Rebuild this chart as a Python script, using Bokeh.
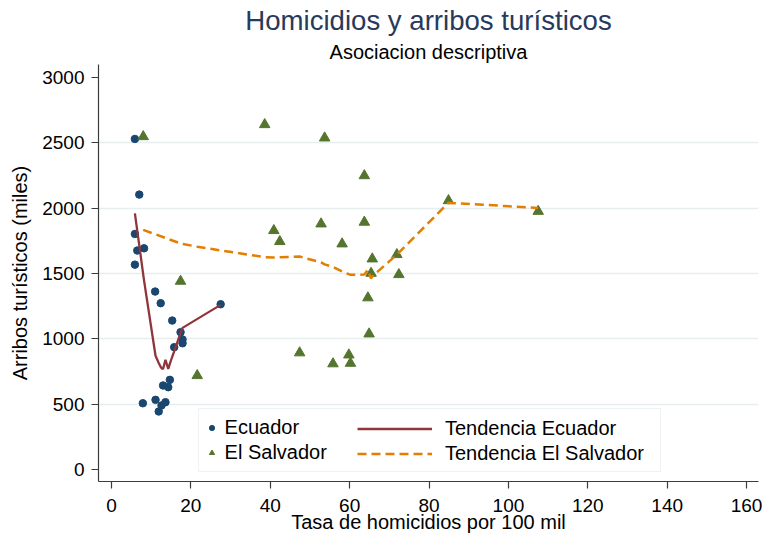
from bokeh.plotting import figure
from bokeh.models import Range1d, FixedTicker, Legend, LegendItem, Title
from bokeh.embed import file_html
from bokeh.resources import INLINE

# ---------------- data ----------------
ec_x = [5.9, 7.0, 5.9, 6.5, 8.2, 5.9, 11.0, 12.4, 15.3, 17.4, 17.9, 17.9, 15.8, 27.5,
        14.7, 13.0, 14.3, 7.9, 11.1, 13.6, 12.6, 11.9]
ec_y = [2530, 2104, 1803, 1676, 1693, 1568, 1362, 1273, 1140, 1051, 995, 966, 936, 1265,
        686, 643, 630, 507, 533, 515, 490, 444]

es_x = [8.0, 17.4, 21.6, 38.6, 40.9, 42.4, 47.4, 52.8, 53.7, 55.8, 58.1, 59.8, 60.2,
        63.7, 63.7, 64.6, 64.9, 65.4, 65.7, 71.9, 72.4, 84.9, 107.5]
es_y = [2548, 1441, 719, 2640, 1829, 1745, 893, 1880, 2538, 809, 1727, 877, 813,
        2249, 1893, 1314, 1038, 1502, 1612, 1645, 1492, 2058, 1976]

trend_ec_x = [5.9, 6.5, 7.0, 7.9, 8.2, 11.0, 11.1, 11.9, 12.4, 12.6, 13.0, 13.6, 14.3,
              14.7, 15.3, 15.8, 17.4, 17.9, 27.5]
trend_ec_y = [1961, 1827, 1716, 1515, 1448, 890, 870, 815, 785, 775, 770, 840, 770,
              808, 863, 904, 1045, 1084, 1260]

trend_es_x = [8.0, 17.4, 21.6, 38.6, 40.9, 42.4, 47.4, 52.8, 53.7, 55.8, 58.1, 59.8, 60.2,
              63.7, 64.6, 64.9, 65.4, 65.7, 71.9, 72.4, 84.9, 107.5]
trend_es_y = [1834, 1730, 1705, 1625, 1622, 1625, 1630, 1585, 1570, 1550, 1515, 1495, 1490,
              1492, 1528, 1500, 1462, 1478, 1645, 1660, 2042, 2002]

x_ticks = [0, 20, 40, 60, 80, 100, 120, 140, 160]
y_ticks = [0, 500, 1000, 1500, 2000, 2500, 3000]
grid_ticks = [500, 1000, 1500, 2000, 2500]

title_text = "Homicidios y arribos turísticos"
subtitle_text = "Asociacion descriptiva"
x_label = "Tasa de homicidios por 100 mil"
y_label = "Arribos turísticos (miles)"
series_labels = ["Ecuador", "El Salvador", "Tendencia Ecuador", "Tendencia El Salvador"]

# ---------------- styling ----------------
FONT = "Liberation Sans"
NAVY = "#1a476f"
GREEN = "#55752f"
MAROON = "#90353b"
ORANGE = "#e37e00"
AXIS = "#3c3c3c"

p = figure(width=763, height=538, output_backend="svg", toolbar_location=None,
           x_range=Range1d(-3.27, 163.0), y_range=Range1d(-92, 3100),
           min_border_left=98, min_border_right=5, min_border_top=64,
           min_border_bottom=57, title=None)
p.outline_line_color = None
p.background_fill_color = "white"
p.border_fill_color = "white"

sub = Title(text=subtitle_text, align="center", text_font=FONT, text_font_size="20px",
            text_font_style="normal", text_color="black", standoff=3)
main = Title(text=title_text, align="center", text_font=FONT, text_font_size="27.6px",
             text_font_style="normal", text_color="#283a5b", standoff=4)
p.add_layout(sub, "above")
p.add_layout(main, "above")

p.xaxis.ticker = FixedTicker(ticks=x_ticks)
p.yaxis.ticker = FixedTicker(ticks=y_ticks)
for ax in (p.xaxis[0], p.yaxis[0]):
    ax.major_tick_in = 0
    ax.major_tick_out = 7
    ax.minor_tick_line_color = None
    ax.axis_line_color = AXIS
    ax.axis_line_width = 1.2
    ax.major_tick_line_color = AXIS
    ax.major_tick_line_width = 1.2
    ax.major_label_text_font = FONT
    ax.major_label_text_font_size = "19px"
    ax.major_label_text_color = "black"
    ax.axis_label_text_font = FONT
    ax.axis_label_text_font_size = "20px"
    ax.axis_label_text_font_style = "normal"
    ax.axis_label_text_color = "black"
p.xaxis.axis_label = x_label
p.yaxis.axis_label = y_label
p.xaxis.major_label_standoff = 10
p.xaxis.axis_label_standoff = -4
p.yaxis.major_label_standoff = 7
p.yaxis.axis_label_standoff = 8

p.xgrid.grid_line_color = None
p.ygrid.ticker = FixedTicker(ticks=grid_ticks)
p.ygrid.grid_line_color = "#e6eef0"
p.ygrid.grid_line_width = 1.3

r_ec = p.scatter(ec_x, ec_y, marker="circle", size=7.5, fill_color=NAVY, line_color=NAVY)
r_es = p.scatter(es_x, es_y, marker="triangle", size=10.5, fill_color=GREEN, line_color=GREEN)
r_tec = p.line(trend_ec_x, trend_ec_y, line_color=MAROON, line_width=2.3)
r_tes = p.line(trend_es_x, trend_es_y, line_color=ORANGE, line_width=2.5, line_dash="9 5")

common = dict(margin=0, padding=6, spacing=0, glyph_height=25, label_height=25,
              label_text_font=FONT, label_text_font_size="20px", label_text_color="black")
leg1 = Legend(items=[LegendItem(label=series_labels[0], renderers=[r_ec]),
                     LegendItem(label=series_labels[1], renderers=[r_es])],
              location=(99.6, 9), glyph_width=13, label_standoff=7, label_width=429,
              border_line_color="#dde6e8", border_line_width=1,
              background_fill_color="white", background_fill_alpha=1.0, **common)
leg2 = Legend(items=[LegendItem(label=series_labels[2], renderers=[r_tec]),
                     LegendItem(label=series_labels[3], renderers=[r_tes])],
              location=(253, 9), glyph_width=75, label_standoff=13,
              border_line_alpha=0, background_fill_alpha=0, **common)
p.add_layout(leg1)
p.add_layout(leg2)

open("out.html", "w", encoding="utf-8").write(file_html(p, INLINE))
